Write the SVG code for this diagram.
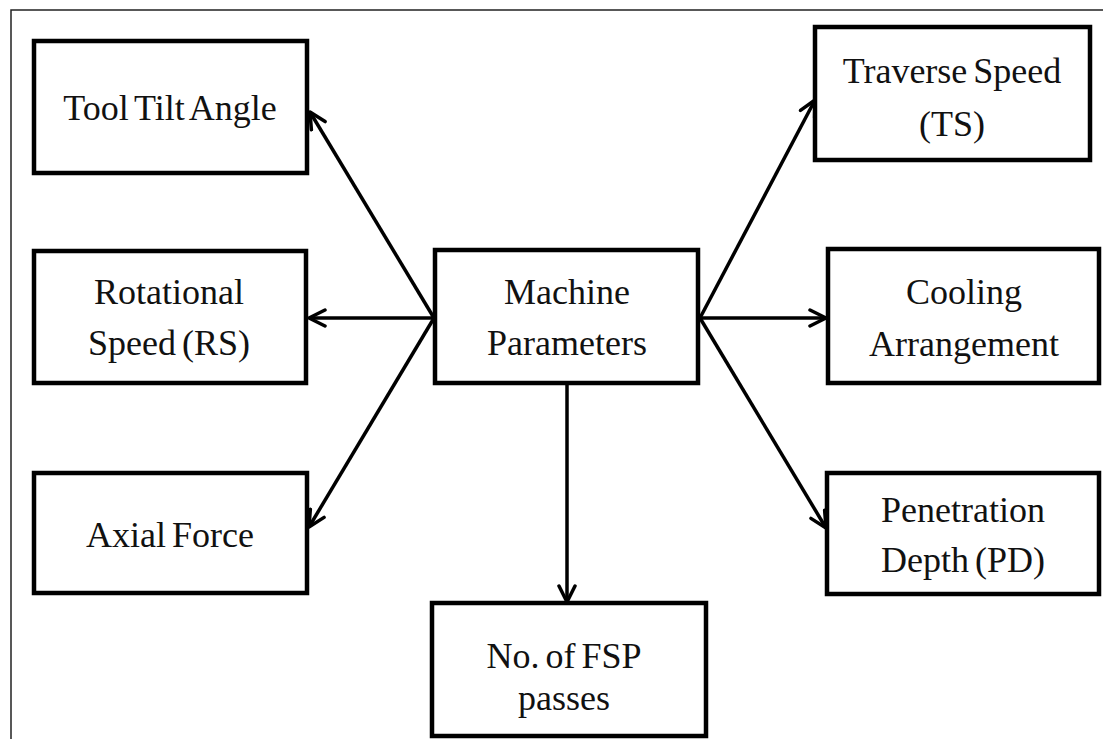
<svg xmlns="http://www.w3.org/2000/svg" width="1103" height="739" viewBox="0 0 1103 739">
  <defs>
    <marker id="arr" viewBox="0 0 20 20" refX="18" refY="10" markerWidth="20" markerHeight="20" markerUnits="userSpaceOnUse" orient="auto">
      <path d="M2,2 L18,10 L2,18" fill="none" stroke="#000" stroke-width="3.5" stroke-linecap="round" stroke-linejoin="round"/>
    </marker>
    <style>
      .box { fill: #fff; stroke: #000; stroke-width: 4.5; }
      .t { font-size: 36px; fill: #111; text-anchor: middle; word-spacing: -3px; }
      .c { stroke: #000; stroke-width: 3.5; fill: none; marker-end: url(#arr); }
    </style>
  </defs>
  <rect x="0" y="0" width="1103" height="739" fill="#fff"/>
  <rect x="11" y="10" width="1100" height="740" fill="none" stroke="#222" stroke-width="1.5"/>

  <g id="connectors">
    <line class="c" x1="434" y1="318" x2="310" y2="112"/>
    <line class="c" x1="434" y1="318" x2="309" y2="318"/>
    <line class="c" x1="434" y1="318" x2="309" y2="527"/>
    <line class="c" x1="700" y1="318" x2="815" y2="100"/>
    <line class="c" x1="700" y1="318" x2="826" y2="318"/>
    <line class="c" x1="700" y1="318" x2="826" y2="528"/>
    <line class="c" x1="567" y1="383" x2="567" y2="602"/>
  </g>

  <g font-family="'Liberation Serif', 'DejaVu Serif', 'Times New Roman', serif">
  <g id="tool-tilt-angle">
    <rect class="box" x="34" y="41" width="273" height="132"/>
    <text class="t" x="170" y="120">Tool Tilt Angle</text>
  </g>
  <g id="rotational-speed">
    <rect class="box" x="34" y="251" width="272" height="132"/>
    <text class="t" x="169" y="304">Rotational</text>
    <text class="t" x="169" y="355">Speed (RS)</text>
  </g>
  <g id="axial-force">
    <rect class="box" x="34" y="473" width="273" height="120"/>
    <text class="t" x="170" y="547">Axial Force</text>
  </g>
  <g id="machine-parameters">
    <rect class="box" x="435" y="250" width="263" height="133"/>
    <text class="t" x="567" y="304">Machine</text>
    <text class="t" x="567" y="355">Parameters</text>
  </g>
  <g id="traverse-speed">
    <rect class="box" x="815" y="27" width="275" height="133"/>
    <text class="t" x="952" y="83">Traverse Speed</text>
    <text class="t" x="952" y="136">(TS)</text>
  </g>
  <g id="cooling-arrangement">
    <rect class="box" x="828" y="249" width="271" height="134"/>
    <text class="t" x="964" y="304">Cooling</text>
    <text class="t" x="964" y="356">Arrangement</text>
  </g>
  <g id="penetration-depth">
    <rect class="box" x="827" y="473" width="272" height="121"/>
    <text class="t" x="963" y="522">Penetration</text>
    <text class="t" x="963" y="572">Depth (PD)</text>
  </g>
  <g id="no-of-fsp-passes">
    <rect class="box" x="432" y="603" width="274" height="133"/>
    <text class="t" x="564" y="668">No. of FSP</text>
    <text class="t" x="564" y="710">passes</text>
  </g>
  </g>
</svg>
